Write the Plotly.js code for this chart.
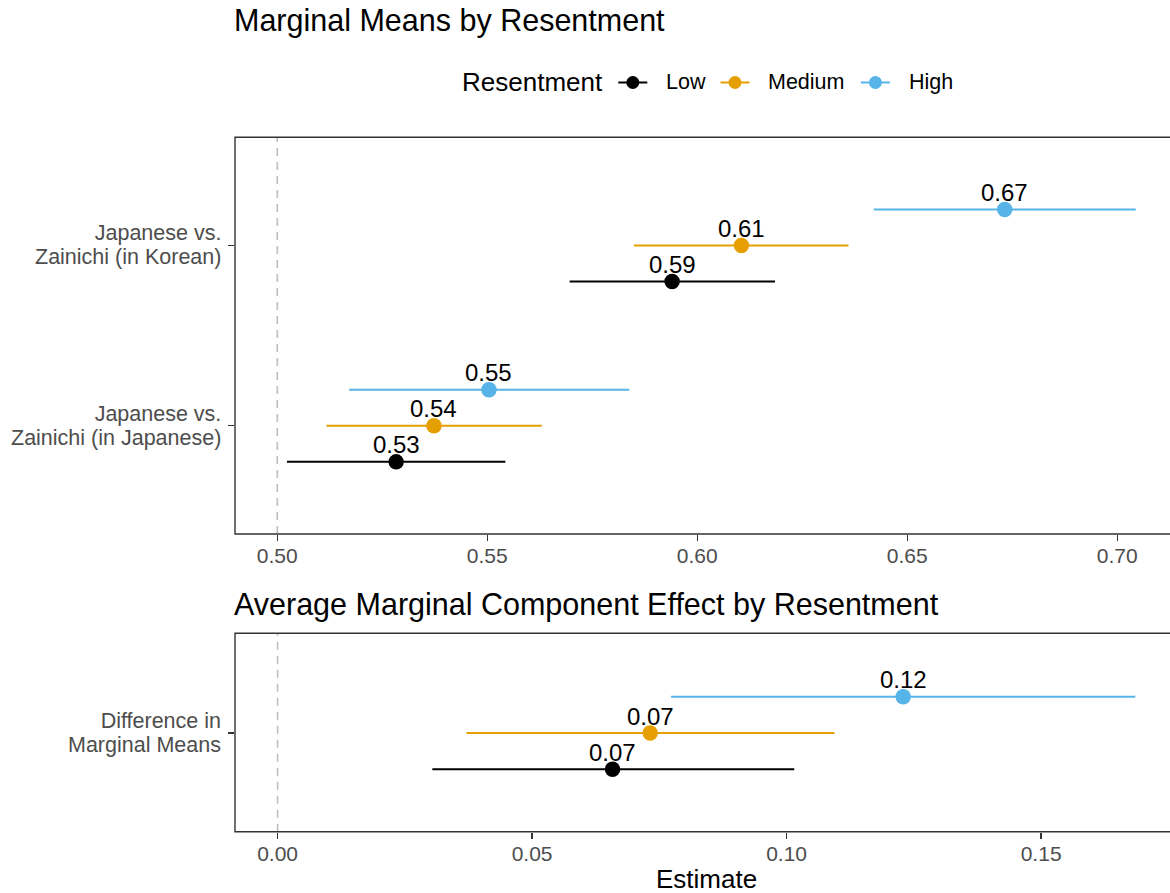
<!DOCTYPE html>
<html>
<head>
<meta charset="utf-8">
<script src="https://cdn.plot.ly/plotly-3.0.1.min.js"></script>
<style>
  html, body { margin: 0; padding: 0; background: #ffffff; }
  #chart { width: 1170px; height: 893px; }
</style>
</head>
<body>
<div id="chart"></div>
<script>
// Resentment groups, drawn bottom to top inside each category
const groups = ["Low", "Medium", "High"];
const groupColors = ["#000000", "#E69F00", "#56B4E9"];

// Marginal means panel: categories bottom to top
const mmCategories = ["Japanese vs.\nZainichi (in Japanese)", "Japanese vs.\nZainichi (in Korean)"];
// estimates[group][category]
const mmEstimate = [
  [0.5283, 0.5940],
  [0.5373, 0.6105],
  [0.5504, 0.6732]
];
const mmLower = [
  [0.5023, 0.5696],
  [0.5117, 0.5849],
  [0.5171, 0.6420]
];
const mmUpper = [
  [0.5543, 0.6185],
  [0.5630, 0.6360],
  [0.5838, 0.7044]
];

// AMCE panel
const amceCategories = ["Difference in\nMarginal Means"];
const amceEstimate = [[0.0658], [0.0732], [0.1229]];
const amceLower = [[0.0304], [0.0371], [0.0773]];
const amceUpper = [[0.1015], [0.1094], [0.1685]];

const mmTicks = [0.50, 0.55, 0.60, 0.65, 0.70];
const amceTicks = [0.00, 0.05, 0.10, 0.15];

const W = 1170, H = 893;
const px = v => v / W;
const py = v => 1 - v / H;
const dodge = [-0.2, 0, 0.2];
const FONT = "Liberation Sans, Arial, Helvetica, sans-serif";

// category labels: 21.5px glyphs on a set line pitch
// (line pitch is 1.3 x the outer font size, glyph size set per line)
const LABEL_SIZE = 21.5;
const LABEL_PITCH = 24.2;

const traces = [];
const annotations = [];
const shapes = [];

function addPanel(cats, est, lo, hi, xa, ya) {
  groups.forEach((g, gi) => {
    const xs = [], ys = [], ep = [], em = [];
    cats.forEach((c, ci) => {
      if (ci > 0) { xs.push(null); ys.push(null); ep.push(null); em.push(null); }
      const pos = ci + 1 + dodge[gi];
      xs.push(est[gi][ci]);
      ys.push(pos);
      ep.push(hi[gi][ci] - est[gi][ci]);
      em.push(est[gi][ci] - lo[gi][ci]);
      annotations.push({
        xref: xa, yref: ya, x: est[gi][ci], y: pos,
        text: est[gi][ci].toFixed(2), showarrow: false,
        xanchor: "center", yanchor: "middle", yshift: 17,
        font: { family: FONT, size: 24, color: "#000000" }
      });
    });
    traces.push({
      type: "scatter", mode: "markers", name: g,
      x: xs, y: ys, xaxis: xa, yaxis: ya,
      marker: { color: groupColors[gi], size: 15.5 },
      error_x: {
        type: "data", symmetric: false, array: ep, arrayminus: em,
        width: 0, thickness: 2, color: groupColors[gi]
      },
      hoverinfo: "x+name"
    });
  });
  cats.forEach((c, ci) => {
    const text = c.split("\n")
      .map(ln => '<span style="font-size:' + LABEL_SIZE + 'px">' + ln + "</span>")
      .join("<br>");
    annotations.push({
      xref: "paper", yref: ya, x: px(223.5), y: ci + 1,
      text: text, showarrow: false, xanchor: "right", yanchor: "middle", align: "right",
      font: { family: FONT, size: LABEL_PITCH / 1.3, color: "#4D4D4D" }
    });
  });
}

addPanel(mmCategories, mmEstimate, mmLower, mmUpper, "x", "y");
addPanel(amceCategories, amceEstimate, amceLower, amceUpper, "x2", "y2");

// panel titles and x axis title
annotations.push({
  xref: "paper", yref: "paper", x: px(232), y: py(20.5),
  text: "Marginal Means by Resentment", showarrow: false,
  xanchor: "left", yanchor: "middle",
  font: { family: FONT, size: 30.5, color: "#000000" }
});
annotations.push({
  xref: "paper", yref: "paper", x: px(232), y: py(604),
  text: "Average Marginal Component Effect by Resentment", showarrow: false,
  xanchor: "left", yanchor: "middle",
  font: { family: FONT, size: 30.5, color: "#000000" }
});
annotations.push({
  xref: "paper", yref: "paper", x: px(706.7), y: py(879),
  text: "Estimate", showarrow: false,
  xanchor: "center", yanchor: "middle",
  font: { family: FONT, size: 26, color: "#000000" }
});

// legend: title, then a line-and-dot key and a label per group
const legendY = 82.5;
const keyCentres = [632.8, 735, 875.4];
const labelLefts = [666, 768.7, 909];
annotations.push({
  xref: "paper", yref: "paper", x: px(460), y: py(legendY),
  text: "Resentment", showarrow: false, xanchor: "left", yanchor: "middle",
  font: { family: FONT, size: 26, color: "#000000" }
});
groups.forEach((g, gi) => {
  const cx = keyCentres[gi];
  shapes.push({
    type: "line", xref: "paper", yref: "paper",
    x0: px(cx - 14.5), x1: px(cx + 14.5), y0: py(legendY), y1: py(legendY),
    line: { color: groupColors[gi], width: 2 }
  });
  shapes.push({
    type: "circle", xref: "paper", yref: "paper",
    xsizemode: "pixel", ysizemode: "pixel",
    xanchor: px(cx), yanchor: py(legendY),
    x0: -6.5, x1: 6.5, y0: -6.5, y1: 6.5,
    fillcolor: groupColors[gi], line: { width: 0 }
  });
  annotations.push({
    xref: "paper", yref: "paper", x: px(labelLefts[gi] - 2.5), y: py(legendY),
    text: g, showarrow: false, xanchor: "left", yanchor: "middle",
    font: { family: FONT, size: 21.5, color: "#000000" }
  });
});

const axisCommon = {
  showgrid: false, zeroline: false, showline: false,
  ticks: "outside", ticklen: 6, tickwidth: 1.3, tickcolor: "#333333",
  tickfont: { family: FONT, size: 21, color: "#4D4D4D" },
  fixedrange: true
};

// reference lines and panel borders
[["x", "y", 0.5], ["x2", "y2", 0]].forEach(([xa, ya, ref]) => {
  shapes.push({
    type: "line", xref: xa, yref: ya + " domain", x0: ref, x1: ref, y0: 0, y1: 1,
    line: { color: "#BEBEBE", width: 1.6, dash: "8px,6px" }, layer: "below"
  });
  shapes.push({
    type: "rect", xref: xa + " domain", yref: ya + " domain", x0: 0, x1: 1.05, y0: 0, y1: 1,
    line: { color: "#333333", width: 1.4 }, fillcolor: "rgba(0,0,0,0)", layer: "above"
  });
});

const layout = {
  width: W, height: H,
  margin: { l: 0, r: 0, t: 0, b: 0 },
  paper_bgcolor: "#ffffff", plot_bgcolor: "#ffffff",
  font: { family: FONT },
  showlegend: false,
  xaxis: Object.assign({}, axisCommon, {
    domain: [px(235), 1], range: [0.48993, 0.71255], anchor: "y",
    tickvals: mmTicks, ticktext: mmTicks.map(v => v.toFixed(2)),
    ticklabelstandoff: -3
  }),
  yaxis: Object.assign({}, axisCommon, {
    domain: [py(534), py(137.3)], range: [0.4, 2.6], anchor: "x",
    tickvals: mmCategories.map((c, i) => i + 1), showticklabels: false
  }),
  xaxis2: Object.assign({}, axisCommon, {
    domain: [px(235), 1], range: [-0.00837, 0.17532], anchor: "y2",
    tickvals: amceTicks, ticktext: amceTicks.map(v => v.toFixed(2)),
    ticklabelstandoff: -3
  }),
  yaxis2: Object.assign({}, axisCommon, {
    domain: [py(831.7), py(633.3)], range: [0.455, 1.551], anchor: "x2",
    tickvals: amceCategories.map((c, i) => i + 1), showticklabels: false
  }),
  shapes: shapes,
  annotations: annotations
};

Plotly.newPlot("chart", traces, layout, { displayModeBar: false, staticPlot: true });
</script>
</body>
</html>
